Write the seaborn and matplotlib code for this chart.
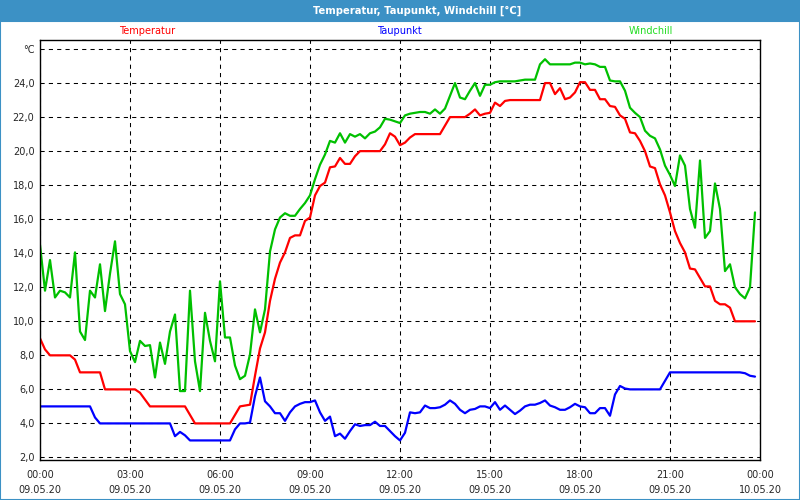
import matplotlib
matplotlib.use("Agg")
import matplotlib.pyplot as plt
import matplotlib.dates as mdates
from matplotlib.patches import Rectangle
from matplotlib.ticker import FixedLocator, FixedFormatter
import pandas as pd
import seaborn as sns

# 10-minute readings, 09.05.20 00:00 - 23:50
temperatur = [9.0, 8.35, 8.0, 8.0, 8.0, 8.0, 8.0, 7.75, 7.0, 7.0, 7.0, 7.0,
              7.0, 6.0, 6.0, 6.0, 6.0, 6.0, 6.0, 6.0, 5.8, 5.4, 5.0, 5.0,
              5.0, 5.0, 5.0, 5.0, 5.0, 5.0, 4.5, 4.0, 4.0, 4.0, 4.0, 4.0,
              4.0, 4.0, 4.0, 4.5, 5.0, 5.05, 5.1, 6.8, 8.4, 9.35, 11.2, 12.5,
              13.45, 14.05, 14.9, 15.05, 15.05, 15.9, 16.1, 17.4, 17.95, 18.15, 19.05, 19.1,
              19.6, 19.25, 19.25, 19.7, 20.0, 20.0, 20.0, 20.0, 20.0, 20.4, 21.05, 20.85,
              20.35, 20.5, 20.8, 21.0, 21.0, 21.0, 21.0, 21.0, 21.0, 21.5, 22.0, 22.0,
              22.0, 22.0, 22.2, 22.45, 22.1, 22.2, 22.25, 22.85, 22.65, 22.95, 23.0, 23.0,
              23.0, 23.0, 23.0, 23.0, 23.0, 24.0, 24.0, 23.35, 23.7, 23.05, 23.15, 23.45,
              24.05, 24.05, 23.6, 23.6, 23.05, 23.05, 22.65, 22.6, 22.1, 21.9, 21.1, 21.05,
              20.6, 20.0, 19.1, 19.0, 18.05, 17.4, 16.4, 15.3, 14.6, 14.05, 13.1, 13.05,
              12.55, 12.05, 12.05, 11.2, 11.0, 11.0, 10.8, 10.0, 10.0, 10.0, 10.0, 10.0]

taupunkt = [5.0, 5.0, 5.0, 5.0, 5.0, 5.0, 5.0, 5.0, 5.0, 5.0, 5.0, 4.35,
            4.0, 4.0, 4.0, 4.0, 4.0, 4.0, 4.0, 4.0, 4.0, 4.0, 4.0, 4.0,
            4.0, 4.0, 4.0, 3.25, 3.5, 3.3, 3.0, 3.0, 3.0, 3.0, 3.0, 3.0,
            3.0, 3.0, 3.0, 3.65, 4.0, 4.0, 4.05, 5.6, 6.7, 5.3, 5.0, 4.6,
            4.6, 4.15, 4.65, 5.0, 5.15, 5.25, 5.25, 5.35, 4.65, 4.15, 4.4, 3.25,
            3.4, 3.1, 3.55, 3.95, 3.85, 3.9, 3.9, 4.1, 3.85, 3.85, 3.55, 3.25,
            3.0, 3.45, 4.65, 4.6, 4.65, 5.05, 4.9, 4.9, 4.95, 5.1, 5.35, 5.15,
            4.8, 4.6, 4.8, 4.85, 5.0, 5.0, 4.9, 5.25, 4.8, 5.05, 4.8, 4.55,
            4.75, 5.0, 5.1, 5.1, 5.2, 5.35, 5.05, 4.95, 4.8, 4.8, 4.95, 5.15,
            5.0, 4.95, 4.6, 4.6, 4.9, 4.9, 4.45, 5.7, 6.2, 6.05, 6.0, 6.0,
            6.0, 6.0, 6.0, 6.0, 6.0, 6.5, 7.0, 7.0, 7.0, 7.0, 7.0, 7.0,
            7.0, 7.0, 7.0, 7.0, 7.0, 7.0, 7.0, 7.0, 7.0, 6.95, 6.8, 6.75]

windchill = [14.5, 11.8, 13.6, 11.4, 11.8, 11.7, 11.4, 14.05, 9.4, 8.9, 11.8, 11.4,
             13.35, 10.6, 12.8, 14.7, 11.6, 11.0, 8.25, 7.6, 8.85, 8.55, 8.6, 6.7,
             8.75, 7.5, 9.4, 10.4, 5.9, 5.9, 11.8, 7.65, 5.9, 10.5, 8.85, 7.65,
             12.35, 9.05, 9.05, 7.4, 6.6, 6.8, 8.05, 10.7, 9.35, 10.7, 14.1, 15.4,
             16.1, 16.35, 16.2, 16.2, 16.6, 16.95, 17.4, 18.35, 19.2, 19.8, 20.6, 20.5,
             21.05, 20.5, 21.0, 20.85, 21.0, 20.75, 21.05, 21.15, 21.4, 21.9, 21.85, 21.75,
             21.65, 22.1, 22.2, 22.25, 22.3, 22.3, 22.2, 22.45, 22.2, 22.5, 23.25, 24.0,
             23.15, 23.05, 23.55, 24.0, 23.25, 23.9, 23.9, 24.05, 24.1, 24.1, 24.1, 24.1,
             24.15, 24.2, 24.2, 24.2, 25.1, 25.4, 25.1, 25.1, 25.1, 25.1, 25.1, 25.2,
             25.2, 25.1, 25.15, 25.1, 24.95, 24.95, 24.15, 24.1, 24.1, 23.55, 22.55, 22.25,
             22.0, 21.2, 20.9, 20.75, 20.1, 19.15, 18.6, 17.95, 19.75, 19.15, 16.6, 15.5,
             19.45, 14.9, 15.3, 18.1, 16.6, 12.95, 13.35, 12.0, 11.6, 11.35, 12.0, 16.4]

series_names = ["Temperatur", "Taupunkt", "Windchill"]
line_colors = ["#ff0000", "#0000ff", "#00c000"]
label_colors = ["#ff0000", "#0000ff", "#22dd22"]
y_ticks = [2, 4, 6, 8, 10, 12, 14, 16, 18, 20, 22, 24, 26]
y_labels = ["2,0", "4,0", "6,0", "8,0", "10,0", "12,0", "14,0", "16,0",
            "18,0", "20,0", "22,0", "24,0", "°C"]

times = pd.date_range("2020-05-09 00:00", periods=len(temperatur), freq="10min")
df = pd.DataFrame({"time": times, "Temperatur": temperatur,
                   "Taupunkt": taupunkt, "Windchill": windchill})
df_long = df.melt(id_vars="time", var_name="series", value_name="value")

sns.set_style("white")
plt.rcParams["font.family"] = ["DejaVu Sans"]

fig = plt.figure(figsize=(8, 5), dpi=100)
fig.patch.set_facecolor("white")
ax = fig.add_axes([0.05, 0.08, 0.90, 0.84])

sns.lineplot(data=df_long, x="time", y="value", hue="series",
             hue_order=series_names, palette=line_colors,
             linewidth=1.6, legend=False, ax=ax)

ax.set_xlim(pd.Timestamp("2020-05-09 00:00"), pd.Timestamp("2020-05-10 00:00"))
ax.set_ylim(1.85, 26.53)

# x axis: labels every 3h, small ticks every hour
ax.xaxis.set_major_locator(mdates.HourLocator(byhour=range(0, 24, 3)))
ax.xaxis.set_minor_locator(mdates.HourLocator())
ax.xaxis.set_major_formatter(mdates.DateFormatter("%H:%M\n%d.%m.%y"))
ax.yaxis.set_major_locator(FixedLocator(y_ticks))
ax.yaxis.set_major_formatter(FixedFormatter(y_labels))

ax.tick_params(axis="x", which="both", direction="out", length=4, width=0.8,
               color="black", labelsize=7, pad=3)
ax.tick_params(axis="y", length=0, labelsize=7, pad=4)
for lbl in ax.get_xticklabels():
    lbl.set_linespacing(1.6)

ax.grid(True, which="major", color="black", linestyle=(0, (4, 4)), linewidth=0.75)
ax.set_axisbelow(True)
for s in ax.spines.values():
    s.set_color("black")
    s.set_linewidth(1.0)
    s.set_visible(True)
ax.set_xlabel("")
ax.set_ylabel("")
ax.set_facecolor("white")

# title bar and window frame
bar_color = "#3c91c5"
fig.patches.append(Rectangle((0, 1 - 21 / 500), 1, 21 / 500, transform=fig.transFigure,
                             facecolor=bar_color, edgecolor="none", zorder=0))
fig.patches.append(Rectangle((0, 0), 1, 1 - 21 / 500, transform=fig.transFigure,
                             facecolor="none", edgecolor=bar_color, linewidth=1.5, zorder=0))
fig.text(417 / 800, 1 - 10.5 / 500, "Temperatur, Taupunkt, Windchill [°C]",
         color="white", fontsize=8, fontweight="bold", fontstretch="condensed",
         ha="center", va="center")

# series labels above plot
for name, col, xp in zip(series_names, label_colors, [147, 399, 651]):
    fig.text(xp / 800, 1 - 31 / 500, name, color=col, fontsize=7,
             ha="center", va="center")

fig.savefig("out.png", dpi=100)
